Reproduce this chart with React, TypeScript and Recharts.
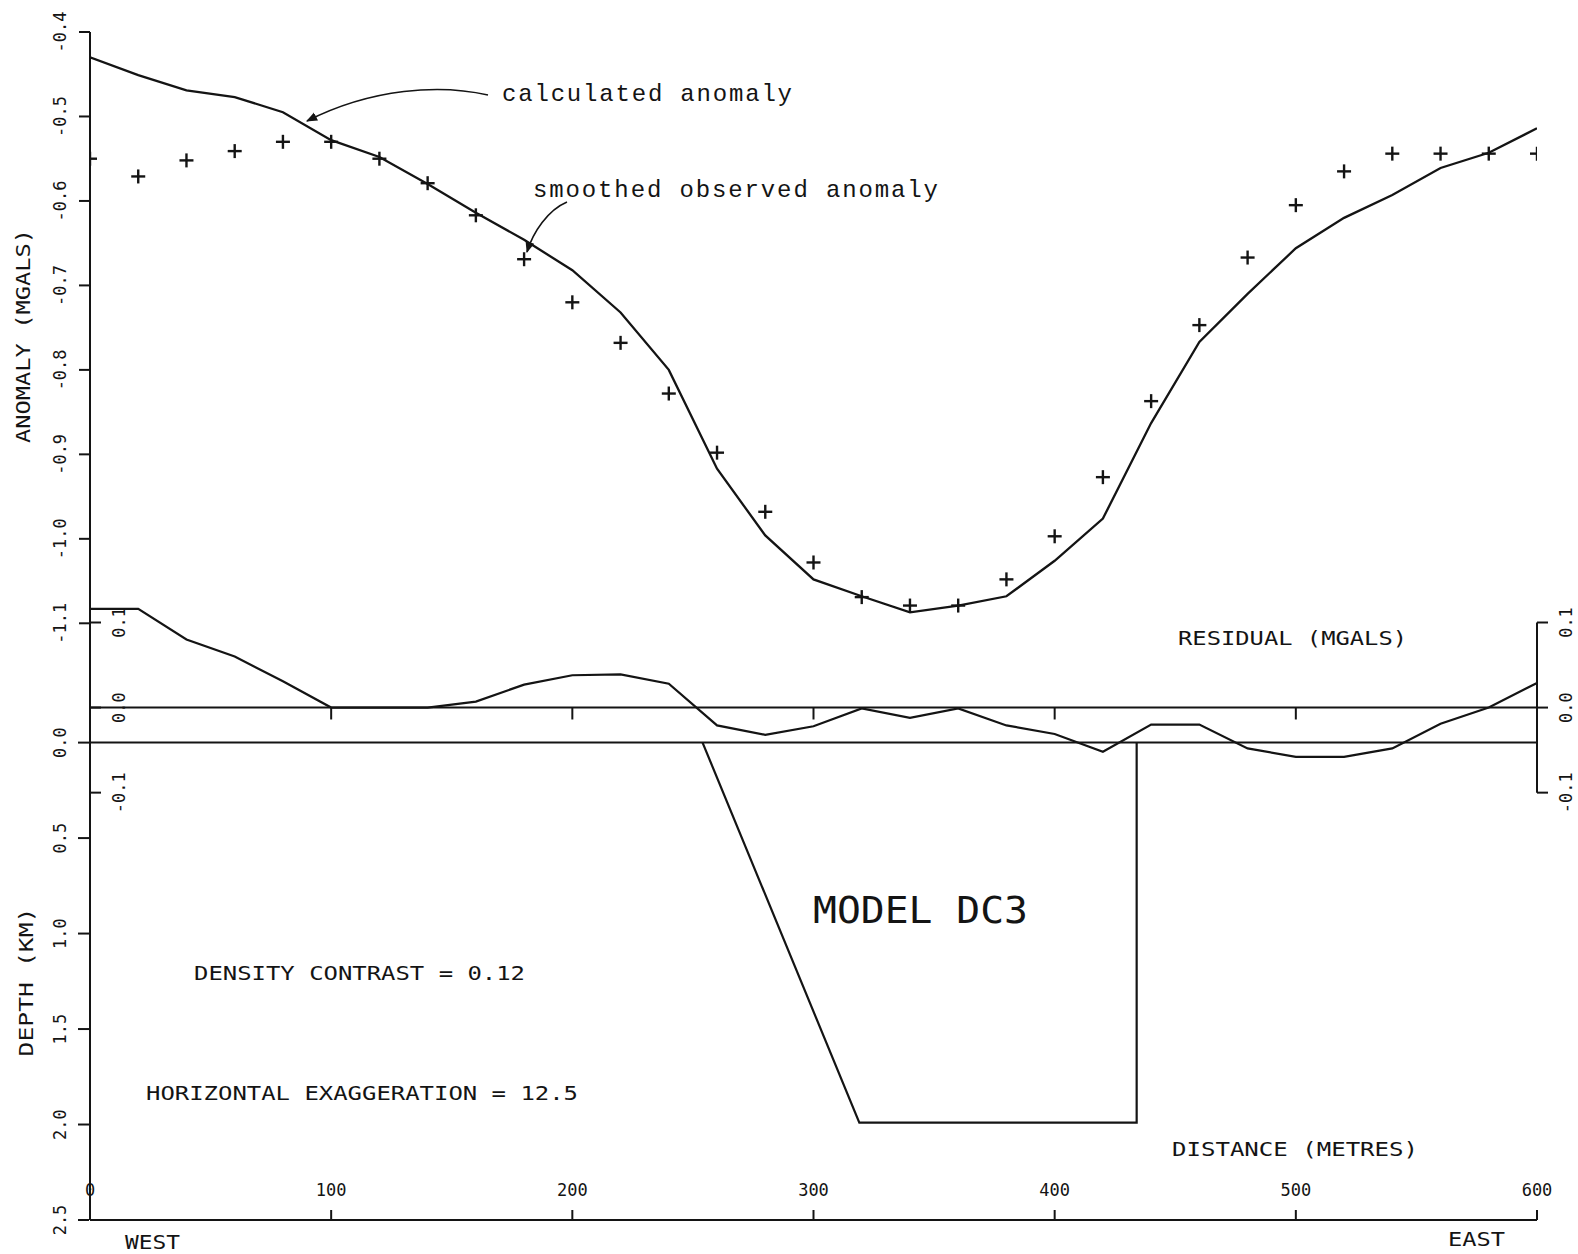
import React from 'react';
import { ComposedChart, Line, Scatter, XAxis, YAxis, ReferenceLine } from 'recharts';

// ---------- data ----------
const distance = [0, 20, 40, 60, 80, 100, 120, 140, 160, 180, 200, 220, 240, 260, 280, 300, 320, 340, 360, 380, 400, 420, 440, 460, 480, 500, 520, 540, 560, 580, 600];
const calculated = [-0.430, -0.451, -0.469, -0.477, -0.495, -0.528, -0.548, -0.580, -0.614, -0.646, -0.682, -0.732, -0.800, -0.917, -0.996, -1.048, -1.068, -1.087, -1.079, -1.068, -1.026, -0.976, -0.863, -0.767, -0.710, -0.656, -0.620, -0.593, -0.561, -0.543, -0.514];
const observed = [-0.550, -0.571, -0.552, -0.541, -0.530, -0.530, -0.550, -0.579, -0.617, -0.669, -0.720, -0.768, -0.828, -0.898, -0.968, -1.028, -1.069, -1.079, -1.079, -1.048, -0.997, -0.927, -0.837, -0.747, -0.667, -0.605, -0.565, -0.544, -0.544, -0.544, -0.544];
const residual = [0.116, 0.116, 0.080, 0.060, 0.031, 0.0, 0.0, 0.0, 0.007, 0.027, 0.038, 0.039, 0.028, -0.021, -0.032, -0.022, -0.001, -0.012, -0.001, -0.021, -0.031, -0.052, -0.020, -0.020, -0.048, -0.058, -0.058, -0.048, -0.019, 0.0, 0.029];
const modelDistance = [254, 319, 434, 434];
const modelDepth = [0, 1.99, 1.99, 0];

const xTicks = [0, 100, 200, 300, 400, 500, 600];
const zeroLineTicks = [100, 200, 300, 400, 500];
const anomalyTicks = [-1.1, -1.0, -0.9, -0.8, -0.7, -0.6, -0.5, -0.4];
const depthTicks = [0, 0.5, 1.0, 1.5, 2.0, 2.5];
const residualTicks = [-0.1, 0, 0.1];

const table = distance.map((d, i) => ({ d, calc: calculated[i], obs: observed[i], res: residual[i] }));
const modelData = modelDistance.map((d, i) => ({ d, depth: modelDepth[i] }));

// ---------- layout ----------
const W = 1578;
const H = 1254;
// three left axes of width 1 and one right axis of width 1 -> plot spans x 91..1537, y 32..1219
const MARGIN = { top: 32, right: 40, bottom: 34, left: 88 };
const INK = '#141414';
const PLOT_FONT = '"DejaVu Sans Mono", "Liberation Mono", monospace';
const TYPE_FONT = '"Liberation Mono", "DejaVu Sans Mono", monospace';

const rotTick = (cx: number, fmt: (v: number) => string) => (props: any) => {
  const { y, payload } = props;
  return (
    <text
      x={cx}
      y={y}
      transform={`rotate(-90 ${cx} ${y})`}
      textAnchor="middle"
      dominantBaseline="central"
      fontFamily={PLOT_FONT}
      fontSize={17}
      fill={INK}
    >
      {fmt(payload.value)}
    </text>
  );
};

const fmt1 = (v: number) => (Math.abs(v) < 1e-9 ? '0.0' : v.toFixed(1));

const XTick = (props: any) => {
  const { x, payload } = props;
  return (
    <text x={x} y={1196} textAnchor="middle" fontFamily={PLOT_FONT} fontSize={17} fill={INK}>
      {String(payload.value)}
    </text>
  );
};

const PlusShape = (props: any) => {
  const { cx, cy } = props;
  if (cx == null || cy == null) return null;
  return (
    <g stroke={INK} strokeWidth={2.4}>
      <line x1={cx - 7} y1={cy} x2={cx + 7} y2={cy} />
      <line x1={cx} y1={cy - 7} x2={cx} y2={cy + 7} />
    </g>
  );
};

const lineStyle = { stroke: INK, strokeWidth: 2 };

const PText = ({ x, y, len, children, size = 20 }: any) => (
  <text x={x} y={y} fontFamily={PLOT_FONT} fontSize={size} fill={INK} textLength={len} lengthAdjust="spacingAndGlyphs">
    {children}
  </text>
);

const RotText = ({ cx, cy, len, children }: any) => (
  <text
    x={cx}
    y={cy}
    transform={`rotate(-90 ${cx} ${cy})`}
    textAnchor="middle"
    dominantBaseline="central"
    fontFamily={PLOT_FONT}
    fontSize={20}
    fill={INK}
    textLength={len}
    lengthAdjust="spacingAndGlyphs"
  >
    {children}
  </text>
);

export default function App() {
  return (
    <div style={{ position: 'absolute', left: 0, top: 0, width: W, height: H, background: '#fff' }}>
      <ComposedChart width={W} height={H} data={table} margin={MARGIN}>
        <XAxis
          xAxisId="x"
          dataKey="d"
          type="number"
          domain={[0, 600]}
          ticks={xTicks}
          interval={0}
          allowDataOverflow
          mirror
          height={1}
          tickSize={10}
          axisLine={lineStyle}
          tickLine={lineStyle}
          tick={XTick}
        />
        <YAxis
          yAxisId="anom"
          type="number"
          domain={[-1.8064, -0.4]}
          ticks={anomalyTicks}
          interval={0}
          allowDataOverflow
          width={1}
          tickSize={11}
          axisLine={lineStyle}
          tickLine={lineStyle}
          tick={rotTick(60, fmt1)}
        />
        <YAxis
          yAxisId="depth"
          type="number"
          reversed
          domain={[-3.7212, 2.5]}
          ticks={depthTicks}
          interval={0}
          allowDataOverflow
          width={1}
          tickSize={11}
          axisLine={false}
          tickLine={lineStyle}
          tick={rotTick(60, fmt1)}
        />
        <YAxis
          yAxisId="res"
          type="number"
          domain={[-0.60235, 0.79412]}
          ticks={residualTicks}
          interval={0}
          allowDataOverflow
          mirror
          width={1}
          tickSize={11}
          axisLine={false}
          tickLine={lineStyle}
          tick={rotTick(119, fmt1)}
        />
        <YAxis
          yAxisId="resR"
          orientation="right"
          type="number"
          domain={[-0.60235, 0.79412]}
          ticks={residualTicks}
          interval={0}
          allowDataOverflow
          width={1}
          tickSize={11}
          axisLine={false}
          tickLine={lineStyle}
          tick={rotTick(1566, fmt1)}
        />

        <ReferenceLine xAxisId="x" yAxisId="res" y={0} stroke={INK} strokeWidth={2} />
        <ReferenceLine xAxisId="x" yAxisId="depth" y={0} stroke={INK} strokeWidth={2} />
        <ReferenceLine
          xAxisId="x"
          yAxisId="res"
          segment={[{ x: 600, y: 0.1 }, { x: 600, y: -0.1 }]}
          stroke={INK}
          strokeWidth={2}
        />
        {zeroLineTicks.map((t) => (
          <ReferenceLine
            key={t}
            xAxisId="x"
            yAxisId="res"
            segment={[{ x: t, y: 0 }, { x: t, y: -0.014 }]}
            stroke={INK}
            strokeWidth={2}
          />
        ))}

        <Line
          xAxisId="x"
          yAxisId="anom"
          dataKey="calc"
          type="linear"
          dot={false}
          stroke={INK}
          strokeWidth={2.3}
          isAnimationActive={false}
        />
        <Scatter xAxisId="x" yAxisId="anom" dataKey="obs" shape={PlusShape} isAnimationActive={false} />
        <Line
          xAxisId="x"
          yAxisId="res"
          dataKey="res"
          type="linear"
          dot={false}
          stroke={INK}
          strokeWidth={2.2}
          isAnimationActive={false}
        />
        <Line
          xAxisId="x"
          yAxisId="depth"
          data={modelData}
          dataKey="depth"
          type="linear"
          dot={false}
          stroke={INK}
          strokeWidth={2.2}
          isAnimationActive={false}
        />
      </ComposedChart>

      <svg
        width={W}
        height={H}
        style={{ position: 'absolute', left: 0, top: 0, pointerEvents: 'none' }}
      >
        <defs>
          <marker id="ah" viewBox="0 0 10 10" refX="9" refY="5" markerWidth="7" markerHeight="7" orient="auto">
            <path d="M0,1 L10,5 L0,9 Z" fill={INK} />
          </marker>
        </defs>
        <text x={502} y={101} fontFamily={TYPE_FONT} fontSize={24} fill={INK} textLength={290} lengthAdjust="spacing">
          calculated anomaly
        </text>
        <path d="M 488 95 C 440 84, 372 88, 307 121" fill="none" stroke={INK} strokeWidth={1.6} markerEnd="url(#ah)" />
        <text x={533} y={197} fontFamily={TYPE_FONT} fontSize={24} fill={INK} textLength={405} lengthAdjust="spacing">
          smoothed observed anomaly
        </text>
        <path d="M 567 202 C 548 210, 533 232, 527 252" fill="none" stroke={INK} strokeWidth={1.6} markerEnd="url(#ah)" />

        <PText x={1178} y={645} len={229}>RESIDUAL (MGALS)</PText>
        <PText x={813} y={923} len={215} size={38}>MODEL DC3</PText>
        <PText x={194} y={980} len={331}>DENSITY CONTRAST = 0.12</PText>
        <PText x={146} y={1100} len={432}>HORIZONTAL EXAGGERATION = 12.5</PText>
        <PText x={1172} y={1156} len={246}>DISTANCE (METRES)</PText>
        <PText x={125} y={1249} len={55}>WEST</PText>
        <PText x={1448} y={1246} len={57}>EAST</PText>
        <RotText cx={23} cy={336} len={214}>ANOMALY (MGALS)</RotText>
        <RotText cx={26} cy={982} len={149}>DEPTH (KM)</RotText>
      </svg>
    </div>
  );
}
